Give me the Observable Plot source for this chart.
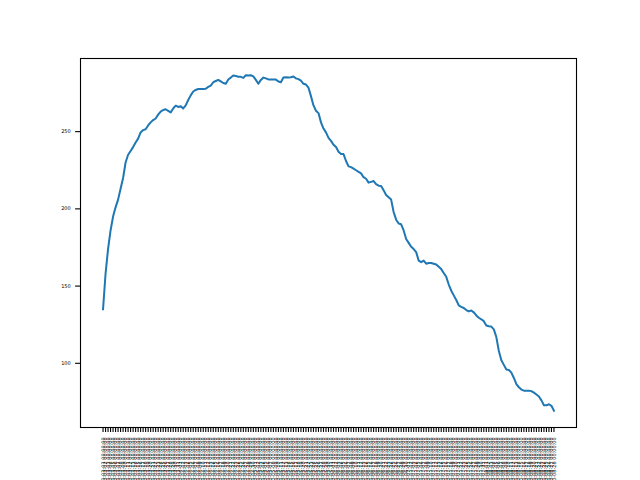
<!DOCTYPE html>
<html>
<head>
<meta charset="utf-8">
<script src="https://cdn.jsdelivr.net/npm/d3@7"></script>
<script src="https://cdn.jsdelivr.net/npm/@observablehq/plot@0.6"></script>
<style>
  html, body { margin: 0; padding: 0; background: white; overflow: hidden; }
</style>
</head>
<body>
<div id="chart"></div>
<script>
// Daily values
const values = [
  135, 158, 174, 186, 195, 201, 206, 213, 220, 230,
  235, 237.5, 240, 243, 245.5, 249.5, 251, 251.5, 254, 256,
  257.5, 258.5, 261, 263, 264, 264.5, 263.5, 262.5, 265, 266.8,
  266, 266.5, 265, 267, 270.5, 273.5, 276, 277, 277.6, 277.6,
  277.6, 277.8, 279, 279.8, 282, 282.8, 283.5, 282.5, 281.5, 281,
  283.8, 285, 286.3, 286, 285.6, 285.5, 284.8, 286.5, 286.3, 286.5,
  285.8, 283.5, 281, 283.5, 285, 284.5, 283.8, 283.7, 283.7, 283.7,
  282.5, 282, 285, 285.2, 285, 285.2, 285.7, 284.5, 284, 283,
  281, 280.5, 278.5, 273, 267, 263.5, 262, 256, 252, 249.5,
  246, 244, 241.5, 240, 237, 235.5, 235.5, 231, 227.5, 227,
  226, 225, 224, 223, 220.5, 219.5, 217, 217.5, 218, 216,
  215, 214.8, 212, 209, 207.5, 206, 198, 193, 190.5, 190,
  186, 180.5, 178, 175.5, 174, 172, 166.5, 165.5, 166.5, 164.5,
  165, 165, 164.5, 164, 162.5, 161, 158.5, 156, 151, 147,
  144, 141, 137.5, 136.5, 135.8, 134.5, 133.6, 134.2, 133, 131,
  129.5, 128.5, 127.3, 124.5, 124, 123.8, 122, 117, 108, 102,
  99, 96, 95.7, 94, 90.5, 86.5, 84.5, 83, 82.3, 82.3,
  82.3, 82, 81, 79.8, 78.5, 76, 72.8, 72.8, 73.5, 72.5,
  69.3
];
// Tick labels: one date-time string per value
const startDate = new Date(Date.UTC(2020, 2, 1));
const dates = values.map((_, i) => new Date(startDate.getTime() + i * 86400000));
const labels = dates.map(d => d3.utcFormat("%Y-%m-%d %H:%M:%S")(d));
const yTicks = [100, 150, 200, 250];

const data = labels.map((label, i) => ({label, value: values[i]}));

const vmin = d3.min(values), vmax = d3.max(values);
const pad = (vmax - vmin) * 0.05;

const chart = Plot.plot({
  width: 640,
  height: 480,
  marginLeft: 80,
  marginRight: 64,
  marginTop: 58,
  marginBottom: 53,
  style: {background: "white", color: "black", fontFamily: "DejaVu Sans", fontSize: "5px", overflow: "visible"},
  x: {type: "point", domain: labels, padding: 9},
  y: {domain: [vmin - pad, vmax + pad]},
  marks: [
    Plot.axisY({ticks: yTicks, tickSize: 4.9, tickPadding: 4.9, strokeWidth: 1.1, fontSize: 5, label: null}),
    Plot.axisX({tickSize: 4.9, tickPadding: 4.9, tickRotate: -90, strokeWidth: 1.1, fontSize: 5, label: null}),
    Plot.line(data, {x: "label", y: "value", stroke: "#1f77b4", strokeWidth: 2, strokeLinejoin: "round", strokeLinecap: "square"}),
    Plot.frame({stroke: "black", strokeWidth: 1.1})
  ]
});
document.getElementById("chart").appendChild(chart);
</script>
</body>
</html>
